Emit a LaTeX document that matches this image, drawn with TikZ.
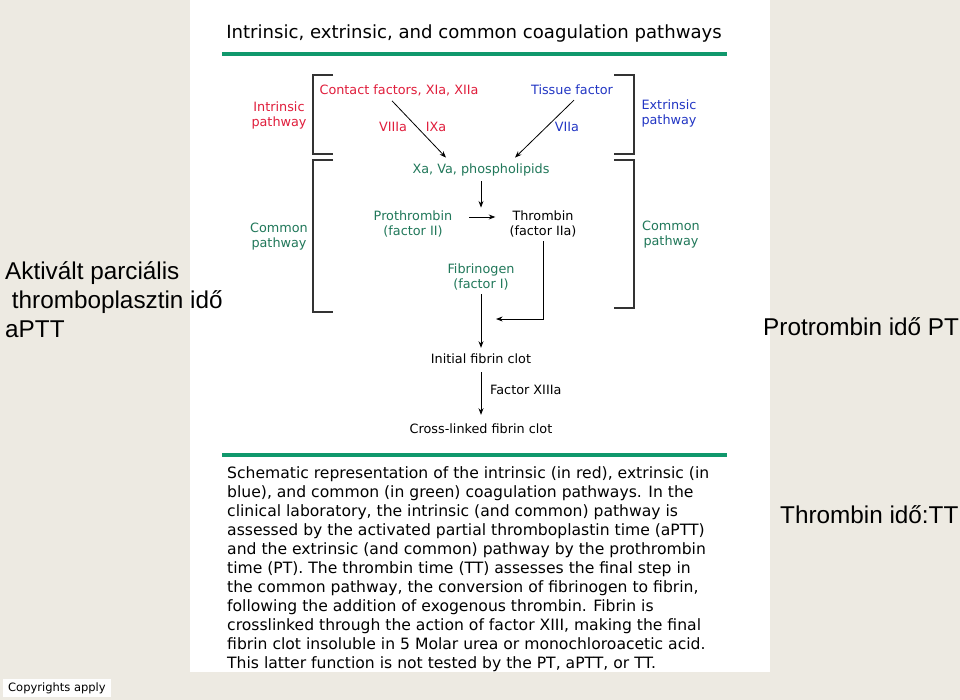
\documentclass[tikz,border=0pt]{standalone}
\usepackage{fontspec}
\setmainfont{DejaVu Sans}
\newfontfamily\arialfont{Liberation Sans}
\usepackage{xcolor}
\usetikzlibrary{positioning, arrows.meta}

\definecolor{bgbeige}{HTML}{EDEAE2}
\definecolor{intred}{HTML}{E01E3C}
\definecolor{extblue}{HTML}{2236C4}
\definecolor{comgreen}{HTML}{21785A}
\definecolor{rulegreen}{HTML}{10986C}

\begin{document}
\begin{tikzpicture}[x=1pt, y=-1pt, >=Stealth,
    lbl/.style={inner sep=0pt, align=center, font=\fontsize{12.8}{15}\selectfont},
    bracket/.style={line width=1.1pt, black!80},
    flow/.style={->, line width=0.8pt},
    overlay/.style={inner sep=0pt, align=left, anchor=west, font=\arialfont\fontsize{24.3}{29}\selectfont}]

    % =================================================================
    % 1. HÁTTÉR ÉS FEHÉR LAP
    % =================================================================
    \useasboundingbox (0,0) rectangle (960,700);
    \fill[bgbeige] (0,0) rectangle (960,700);
    \fill[white] (190,0) rectangle (770,672);

    % Cím és zöld vonalak
    \node[inner sep=0pt, font=\fontsize{18.1}{21}\selectfont] (title) at (474,34)
        {Intrinsic, extrinsic, and common coagulation pathways};
    \draw[rulegreen, line width=3.5pt] (222,54) -- (727,54);
    \draw[rulegreen, line width=3.5pt] (222,455) -- (727,455);

    % =================================================================
    % 2. ZÁRÓJELEK ÉS PÁLYA-FELIRATOK
    % =================================================================
    \draw[bracket] (333,75) -- (313,75) -- (313,154) -- (333,154);
    \draw[bracket] (614,75) -- (634,75) -- (634,154) -- (614,154);
    \draw[bracket] (333,160) -- (313,160) -- (313,312) -- (333,312);
    \draw[bracket] (614,160) -- (634,160) -- (634,308) -- (614,308);

    \node[lbl, intred] (intpath) at (279,115) {Intrinsic\\pathway};
    \node[lbl, extblue] (extpath) at (669,113) {Extrinsic\\pathway};
    \node[lbl, comgreen] (compathl) at (279,237) {Common\\pathway};
    \node[lbl, comgreen] (compathr) at (671,235) {Common\\pathway};

    % =================================================================
    % 3. A KASZKÁD ELEMEI
    % =================================================================
    \node[lbl, intred] (contact) at (399,90) {Contact factors, XIa, XIIa};
    \node[lbl, extblue] (tissue) at (572,90) {Tissue factor};
    \node[lbl, intred] (viii) at (393,127) {VIIIa};
    \node[lbl, intred] (ixa) at (436,127) {IXa};
    \node[lbl, extblue] (viia) at (567,127) {VIIa};
    \node[lbl, comgreen] (xa) at (481,170) {Xa, Va, phospholipids};
    \node[lbl, comgreen] (prothr) at (413,224) {Prothrombin\\(factor II)};
    \node[lbl] (thromb) at (543,224) {Thrombin\\(factor IIa)};
    \node[lbl, comgreen] (fibrin) at (481,277) {Fibrinogen\\(factor I)};
    \node[lbl] (initclot) at (481,359) {Initial fibrin clot};
    \node[lbl] (crossclot) at (481,429) {Cross-linked fibrin clot};
    \node[lbl, anchor=west] (xiiia) at (490,390) {Factor XIIIa};
    \coordinate (join) at (496,319);

    % Nyilak
    \draw[flow] ([xshift=-7pt, yshift=-5pt]contact.south) -- ([xshift=-35pt, yshift=6pt]xa.north);
    \draw[flow] ([xshift=2pt, yshift=-5pt]tissue.south) -- ([xshift=34pt, yshift=6pt]xa.north);
    \draw[flow] ([yshift=-5pt]xa.south) -- ([yshift=3pt]prothr.north -| xa.south);
    \draw[flow] ([xshift=17pt, yshift=7pt]prothr.east) -- ([xshift=-14pt, yshift=7pt]thromb.west);
    \draw[flow] ([yshift=-4pt]thromb.south) |- (join);
    \draw[flow] ([yshift=-4pt]fibrin.south) -- ([yshift=6pt]initclot.north);
    \draw[flow] ([yshift=-8pt]initclot.south) -- ([yshift=9pt]crossclot.north);

    % =================================================================
    % 4. MAGYARÁZÓ SZÖVEG
    % =================================================================
    \node[inner sep=0pt, anchor=north west, align=left,
          font=\fontsize{15.6}{19}\selectfont] (caption) at (227,466)
        {Schematic representation of the intrinsic (in red), extrinsic (in\\
         blue), and common (in green) coagulation pathways. In the\\
         clinical laboratory, the intrinsic (and common) pathway is\\
         assessed by the activated partial thromboplastin time (aPTT)\\
         and the extrinsic (and common) pathway by the prothrombin\\
         time (PT). The thrombin time (TT) assesses the final step in\\
         the common pathway, the conversion of fibrinogen to fibrin,\\
         following the addition of exogenous thrombin. Fibrin is\\
         crosslinked through the action of factor XIII, making the final\\
         fibrin clot insoluble in 5 Molar urea or monochloroacetic acid.\\
         This latter function is not tested by the PT, aPTT, or TT.};

    % =================================================================
    % 5. MAGYAR FELIRATOK
    % =================================================================
    \node[overlay] (aptt) at (5,300)
        {Aktivált parciális\\\ thromboplasztin idő\\aPTT};
    \node[overlay] (pt) at (763,327) {Protrombin idő PT};
    \node[overlay] (tt) at (780,515) {Thrombin idő:TT};

    \node[fill=white!96!bgbeige, inner xsep=5pt, inner ysep=3pt, anchor=west,
          font=\fontsize{11.5}{13}\selectfont] (copy) at (3,688) {Copyrights apply};

\end{tikzpicture}
\end{document}
